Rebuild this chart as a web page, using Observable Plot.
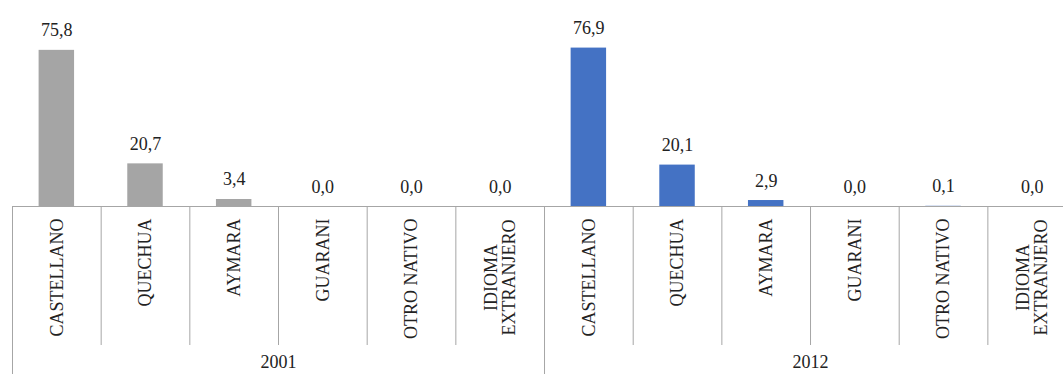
<!DOCTYPE html>
<html>
<head>
<meta charset="utf-8">
<script src="https://cdn.jsdelivr.net/npm/d3@7"></script>
<script src="https://cdn.jsdelivr.net/npm/@observablehq/plot@0.6"></script>
<style>
  html, body { margin: 0; padding: 0; background: #fff; overflow: hidden; }
  #chart svg, #chart svg text { font-family: "Liberation Serif", "Times New Roman", serif !important; }
</style>
</head>
<body>
<div id="chart"></div>
<script>
const years = ["2001", "2012"];
const categories = ["CASTELLANO", "QUECHUA", "AYMARA", "GUARANI", "OTRO NATIVO", "IDIOMA\nEXTRANJERO"];
const values2001 = [75.8, 20.7, 3.4, 0.0, 0.0, 0.0];
const values2012 = [76.9, 20.1, 2.9, 0.0, 0.1, 0.0];
const yearColors = ["#a5a5a5", "#4472c4"];

const seriesValues = [values2001, values2012];
const rows = [];
years.forEach((yr, yi) => {
  categories.forEach((cat, ci) => {
    rows.push({year: yr, category: cat, value: seriesValues[yi][ci], index: yi * categories.length + ci, color: yearColors[yi]});
  });
});
const nCats = rows.length;
const innerEdges = d3.range(1, nCats).filter(i => i % categories.length !== 0);
const groupEdges = d3.range(0, nCats + 1, categories.length);
const yearRows = years.map((yr, yi) => ({year: yr, center: yi * categories.length + categories.length / 2}));

const fmt = v => d3.format(".1f")(v).replace(".", ",");
const font = "'Liberation Serif', 'Times New Roman', serif";
const gray = "#a6a6a6";
const ink = "#222";

const chart = Plot.plot({
  width: 1063,
  height: 374,
  marginTop: 0,
  marginLeft: 12,
  marginRight: 0,
  marginBottom: 168,
  style: {fontFamily: font, fontSize: "18px", color: ink, background: "#fff"},
  x: {domain: [0, nCats], range: [12, 12 + 88.67 * nCats]},
  y: {domain: [0, 100], axis: null},
  marks: [
    Plot.rectY(rows, {x1: d => d.index + 0.3, x2: d => d.index + 0.7, y: "value", fill: "color"}),
    Plot.ruleY([0], {stroke: gray, strokeWidth: 1}),
    Plot.axisX(innerEdges, {tickSize: 139, tickFormat: () => "", stroke: gray, label: null}),
    Plot.axisX(groupEdges, {tickSize: 168, tickFormat: () => "", stroke: gray, label: null}),
    Plot.text(rows, {x: d => d.index + 0.5, y: "value", text: d => fmt(d.value), dy: -14, lineAnchor: "bottom", fontSize: 18, fontFamily: font, fill: ink}),
    Plot.text(rows.filter(d => !d.category.includes("\n")), {x: d => d.index + 0.5, frameAnchor: "bottom", text: "category", rotate: -90, textAnchor: "end", lineAnchor: "middle", dy: 12, fontSize: 18, fontFamily: font, fill: ink}),
    Plot.text(rows.filter(d => d.category.includes("\n")), {x: d => d.index + 0.5, frameAnchor: "bottom", text: "category", rotate: -90, textAnchor: "middle", lineAnchor: "middle", dy: 71, fontSize: 18, fontFamily: font, fill: ink}),
    Plot.text(yearRows, {x: "center", frameAnchor: "bottom", text: "year", dy: 156, lineAnchor: "middle", fontSize: 18, fontFamily: font, fill: ink})
  ]
});
document.getElementById("chart").appendChild(chart);
</script>
</body>
</html>
